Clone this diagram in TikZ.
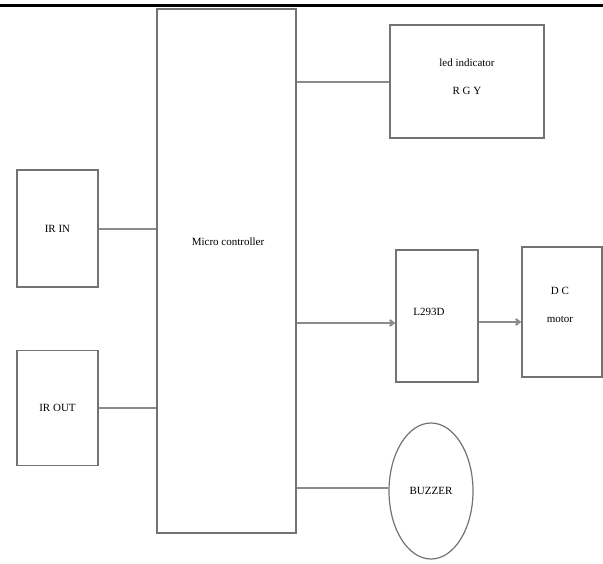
\documentclass[tikz,border=0pt]{standalone}
\usepackage{fontspec}
\setmainfont{Liberation Serif}
\usetikzlibrary{shapes.geometric,arrows.meta}
\begin{document}
\begin{tikzpicture}[
  x=1pt, y=-1pt, >={Straight Barb[length=4pt,width=6pt]},
  line width=1.2pt, draw=black!55,
  block/.style={rectangle, draw=black!55, inner sep=0pt, font=\fontsize{11}{28}\selectfont, align=center},
  link/.style={draw=black!45, line width=2pt}
]
  \useasboundingbox (0,0) rectangle (603,563);
  % top rule
  \coordinate (RL) at (0,5);
  \coordinate (RR) at (603,5);
  \draw[black, line width=3pt] (RL) -- (RR);

  % positions
  \node[block, minimum width=139pt, minimum height=524pt] (MC) at (226.5,271) {};
  \node[font=\fontsize{11}{13}\selectfont] (MCT) at (228,242) {Micro controller};
  \node[block, minimum width=81pt, minimum height=117pt]  (IRIN)  at (57.5,228.5) {IR IN};
  \node[block, minimum width=81pt, minimum height=115pt]  (IROUT) at (57.5,408)   {IR OUT};
  \node[block, minimum width=154pt, minimum height=113pt] (LED)   at (467,81.5)   {};
  \node[font=\fontsize{11}{28}\selectfont, align=center] (LEDT) at (467,77) {led indicator\\R G Y};
  \node[block, minimum width=82pt, minimum height=132pt]  (DRV)   at (437,316)    {};
  \node[font=\fontsize{11}{13}\selectfont] (DRVT) at (429,312) {L293D};
  \node[block, minimum width=80pt, minimum height=130pt]  (DCM)   at (562,312)    {};
  \node[font=\fontsize{11}{28}\selectfont, align=center] (DCMT) at (560,305) {D C\\motor};
  \node[ellipse, draw=black!55, minimum width=84pt, minimum height=136pt, inner sep=0pt, font=\fontsize{11}{13}\selectfont] (BZ) at (431,491) {BUZZER};

  % edges
  \draw[link] (IRIN.east)  -- (IRIN.east -| MC.west);
  \draw[link] (IROUT.east) -- (IROUT.east -| MC.west);
  \draw[link] (LED.west -| MC.east) -- (LED.west);
  \draw[link, ->] ([yshift=-7pt]DRV.west -| MC.east) -- ([yshift=-7pt]DRV.west);
  \draw[link, ->] ([yshift=-6pt]DRV.east) -- ([yshift=-6pt]DRV.east -| DCM.west);
  \draw[link] ([yshift=3pt]BZ.west -| MC.east) -- ([yshift=3pt]BZ.west);
\end{tikzpicture}
\end{document}
